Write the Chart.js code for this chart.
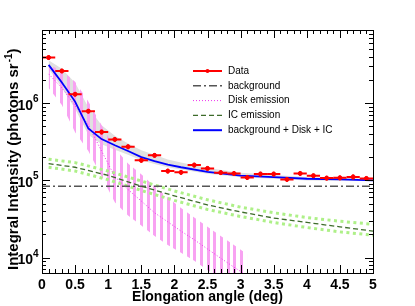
<!DOCTYPE html>
<html>
<head>
<meta charset="utf-8">
<script src="https://cdn.jsdelivr.net/npm/chart.js@4.4.1/dist/chart.umd.min.js"></script>
<style>
  body { margin: 0; background: #fff; }
  #wrap { width: 415px; height: 306px; }
</style>
</head>
<body>
<div id="wrap"><canvas id="chart" width="415" height="306"></canvas></div>
<script>
// Data points (elongation, intensity) with errors
const dataX = [0.1, 0.3, 0.5, 0.7, 0.9, 1.1, 1.3, 1.5, 1.7, 1.9, 2.1, 2.3, 2.5,
  2.7, 2.9, 3.1, 3.3, 3.5, 3.7, 3.9, 4.1, 4.3, 4.5, 4.7, 4.9];
const dataY = [3.91e6, 2.62e6, 1.31e6, 7.9e5, 4.24e5, 3.4e5, 2.73e5, 1.82e5, 2.11e5,
  1.32e5, 1.27e5, 1.58e5, 1.43e5, 1.26e5, 1.23e5, 1.09e5, 1.21e5, 1.21e5, 1.03e5,
  1.23e5, 1.15e5, 1.07e5, 1.08e5, 1.11e5, 1.06e5];
const dataYErr = [2.8e5, 1.8e5, 9e4, 5.5e4, 3e4, 2.4e4, 1.9e4, 1.3e4, 1.5e4, 9e3, 9e3,
  1.1e4, 1e4, 9e3, 8.5e3, 7.5e3, 8.5e3, 8.5e3, 7e3, 8.5e3, 8e3, 7.5e3, 7.5e3, 8e3, 7.5e3];
const dataXErr = 0.1;

// background level
const bgX = [0, 5];
const bgY = [8.4e4, 8.4e4];

// total model (background + Disk + IC) and its band
const totX = [0.1, 0.3, 0.5, 0.7, 0.9, 1.1, 1.3, 1.5, 1.7, 1.9, 2.1, 2.5, 3.0, 3.5, 4.0, 4.5, 5.0];
const totY = [3.14e6, 1.86e6, 1.05e6, 4.7e5, 3.43e5, 2.85e5, 2.4e5, 2.0e5, 1.78e5, 1.6e5,
  1.48e5, 1.29e5, 1.15e5, 1.1e5, 1.05e5, 1.03e5, 1.0e5];
const totHi = [3.6e6, 2.8e6, 1.85e6, 8.9e5, 5.2e5, 3.8e5, 3.0e5, 2.45e5, 2.15e5, 1.87e5,
  1.7e5, 1.45e5, 1.26e5, 1.17e5, 1.11e5, 1.07e5, 1.05e5];
const totLo = [2.8e6, 1.6e6, 8.5e5, 3.9e5, 2.95e5, 2.5e5, 2.15e5, 1.82e5, 1.63e5, 1.48e5,
  1.38e5, 1.22e5, 1.1e5, 1.05e5, 1.0e5, 9.9e4, 9.8e4];

// disk emission and its band
const diskX = [0.1, 0.3, 0.5, 0.7, 0.9, 1.1, 1.3, 1.5, 1.7, 1.9, 2.1, 2.3, 2.5, 2.7, 2.9, 3.1];
const diskY = [2.4e6, 1.58e6, 9.3e5, 5.2e5, 2.4e5, 1.12e5, 7.6e4, 5.4e4, 3.8e4, 2.9e4,
  2.2e4, 1.7e4, 1.29e4, 9.8e3, 7.5e3, 5.8e3];
const diskHi = [3.16e6, 2.63e6, 1.9e6, 1.05e6, 5.2e5, 2.6e5, 1.66e5, 1.2e5, 8.3e4, 6.0e4,
  4.4e4, 3.3e4, 2.5e4, 1.9e4, 1.45e4, 1.1e4];
const diskLo = [1.58e6, 9.5e5, 4.2e5, 2.4e5, 1.12e5, 5.2e4, 3.5e4, 2.6e4, 1.9e4, 1.45e4,
  1.15e4, 9.1e3, 6.9e3, 5.2e3, 4.0e3, 3.2e3];

// IC emission and its band
const icX = [0.1, 0.5, 1.0, 1.5, 2.0, 2.5, 3.0, 3.5, 4.0, 4.5, 5.0];
const icY = [1.65e5, 1.48e5, 1.16e5, 8.4e4, 6.3e4, 4.8e4, 3.9e4, 3.25e4, 2.85e4, 2.5e4, 2.2e4];
const icHi = [1.88e5, 1.7e5, 1.32e5, 9.8e4, 7.3e4, 5.6e4, 4.5e4, 3.8e4, 3.3e4, 2.95e4, 2.7e4];
const icLo = [1.48e5, 1.32e5, 1.02e5, 7.4e4, 5.5e4, 4.2e4, 3.4e4, 2.85e4, 2.45e4, 2.15e4, 1.95e4];

const xMajor = [0, 0.5, 1, 1.5, 2, 2.5, 3, 3.5, 4, 4.5, 5];
const yDecades = [4, 5, 6];

const pts = (xs, ys) => xs.map((x, i) => ({ x: x, y: ys[i] }));

// vertical hatch for the disk band
function hatch() {
  const c = document.createElement("canvas");
  c.width = 20; c.height = 4;
  const g = c.getContext("2d");
  g.fillStyle = "#f8a2f2";
  [0, 7, 13].forEach((x) => g.fillRect(x, 0, 3, 4));
  return g.createPattern(c, "repeat");
}

const FONT = "'Liberation Sans', Arial, sans-serif";

const legendItems = [
  { label: "Data", color: "#ff0000", width: 2, dash: [], marker: true },
  { label: "background", color: "#555555", width: 1.5, dash: [8, 3, 2, 3] },
  { label: "Disk emission", color: "#ee33ee", width: 1, dash: [1, 2] },
  { label: "IC emission", color: "#3d6b2a", width: 1.2, dash: [5, 3] },
  { label: "background + Disk + IC", color: "#0000ff", width: 2, dash: [] },
];

const decor = {
  id: "decor",
  afterDatasetsDraw(chart) {
    // error bars on data
    const { ctx, scales } = chart;
    const sx = scales.x, sy = scales.y;
    ctx.save();
    ctx.strokeStyle = "#ff0000";
    ctx.lineWidth = 2;
    dataX.forEach((x, i) => {
      const px = sx.getPixelForValue(x), py = sy.getPixelForValue(dataY[i]);
      ctx.beginPath();
      ctx.moveTo(sx.getPixelForValue(x - dataXErr), py);
      ctx.lineTo(sx.getPixelForValue(x + dataXErr), py);
      ctx.moveTo(px, sy.getPixelForValue(dataY[i] + dataYErr[i]));
      ctx.lineTo(px, sy.getPixelForValue(dataY[i] - dataYErr[i]));
      ctx.stroke();
    });
    ctx.restore();
  },
  afterDraw(chart) {
    const { ctx, chartArea: a, scales } = chart;
    const sx = scales.x, sy = scales.y;
    ctx.save();
    ctx.strokeStyle = "#000";
    ctx.lineWidth = 1;
    ctx.strokeRect(a.left + 0.5, a.top + 0.5, a.right - a.left, a.bottom - a.top);

    const seg = (x1, y1, x2, y2) => { ctx.beginPath(); ctx.moveTo(x1, y1); ctx.lineTo(x2, y2); ctx.stroke(); };
    // x ticks (bottom and top)
    for (let i = 0; i <= 50; i++) {
      const px = Math.round(sx.getPixelForValue(i / 10)) + 0.5;
      const len = i % 5 === 0 ? 8 : 4;
      seg(px, a.bottom, px, a.bottom - len);
      seg(px, a.top, px, a.top + len);
    }
    // y ticks (left and right)
    for (let d = 3; d <= 6; d++) {
      for (let m = 1; m <= 9; m++) {
        const v = m * Math.pow(10, d);
        if (v < sy.min || v > sy.max) continue;
        const py = Math.round(sy.getPixelForValue(v)) + 0.5;
        const len = m === 1 ? 8 : 4;
        seg(a.left, py, a.left + len, py);
        seg(a.right, py, a.right - len, py);
      }
    }

    ctx.fillStyle = "#000";
    // x tick labels
    ctx.font = "bold 14px " + FONT;
    ctx.textAlign = "center";
    ctx.textBaseline = "middle";
    xMajor.forEach((v) => ctx.fillText(String(v), sx.getPixelForValue(v), 285));

    // y tick labels 10^n
    yDecades.forEach((d) => {
      const py = sy.getPixelForValue(Math.pow(10, d));
      ctx.font = "bold 14px " + FONT;
      ctx.textAlign = "right";
      ctx.textBaseline = "middle";
      ctx.fillText("10", 33, py + 3);
      ctx.font = "bold 10px " + FONT;
      ctx.textAlign = "left";
      ctx.textBaseline = "alphabetic";
      ctx.fillText(String(d), 33, py - 1);
    });

    // x title
    ctx.font = "bold 14px " + FONT;
    ctx.textAlign = "center";
    ctx.textBaseline = "alphabetic";
    ctx.fillText("Elongation angle (deg)", (a.left + a.right) / 2, 301);

    // y title with superscript
    ctx.save();
    ctx.translate(18, 270);
    ctx.rotate(-Math.PI / 2);
    ctx.textAlign = "left";
    ctx.font = "bold 15px " + FONT;
    const t1 = "Integral Intensity (photons sr";
    ctx.fillText(t1, 0, 0);
    let w = ctx.measureText(t1).width;
    ctx.font = "bold 10px " + FONT;
    ctx.fillText("-1", w + 1, -6);
    w += ctx.measureText("-1").width + 1;
    ctx.font = "bold 15px " + FONT;
    ctx.fillText(")", w, 0);
    ctx.restore();

    // legend
    ctx.font = "10px " + FONT;
    ctx.textAlign = "left";
    ctx.textBaseline = "middle";
    legendItems.forEach((it, i) => {
      const y = 71 + i * 14.8;
      ctx.strokeStyle = it.color;
      ctx.lineWidth = it.width;
      ctx.setLineDash(it.dash);
      seg(193, y, 222, y);
      ctx.setLineDash([]);
      if (it.marker) {
        ctx.fillStyle = it.color;
        ctx.beginPath(); ctx.arc(207.5, y, 2, 0, Math.PI * 2); ctx.fill();
      }
      ctx.fillStyle = "#000";
      ctx.fillText(it.label, 228, y);
    });
    ctx.restore();
  },
};

const lineDs = (d, color, width, dash, order) => ({
  data: d, borderColor: color, borderWidth: width, borderDash: dash,
  pointRadius: 0, fill: false, tension: 0, order: order,
});

new Chart(document.getElementById("chart").getContext("2d"), {
  type: "line",
  data: {
    datasets: [
      {
        data: pts(dataX, dataY), showLine: false, pointRadius: 2,
        pointBackgroundColor: "#ff0000", pointBorderColor: "#ff0000", order: 0,
      },
      lineDs(pts(totX, totY), "#0000ff", 1.8, [], 1),
      lineDs(pts(icX, icY), "#3d6b2a", 1.3, [5, 3], 2),
      lineDs(pts(diskX, diskY), "#ee33ee", 1, [1, 2], 3),
      lineDs(pts(bgX, bgY), "#555555", 1.5, [8, 3, 2, 3], 4),
      lineDs(pts(icX, icHi), "#aef088", 3, [3, 3.5], 5),
      lineDs(pts(icX, icLo), "#aef088", 3, [3, 3.5], 6),
      Object.assign(lineDs(pts(diskX, diskHi), "rgba(0,0,0,0)", 0, [], 7),
        { fill: "+1", backgroundColor: hatch() }),
      lineDs(pts(diskX, diskLo), "rgba(0,0,0,0)", 0, [], 8),
      Object.assign(lineDs(pts(totX, totHi), "rgba(0,0,0,0)", 0, [], 9),
        { fill: "+1", backgroundColor: "#e0e0e0" }),
      lineDs(pts(totX, totLo), "rgba(0,0,0,0)", 0, [], 10),
    ],
  },
  options: {
    responsive: false,
    animation: false,
    layout: { padding: { left: 42, right: 42, top: 30, bottom: 33 } },
    plugins: { legend: { display: false }, tooltip: { enabled: false } },
    scales: {
      x: { type: "linear", min: 0, max: 5, display: false },
      y: { type: "logarithmic", min: 6300, max: 8.9e6, display: false },
    },
  },
  plugins: [decor],
});
</script>
</body>
</html>
